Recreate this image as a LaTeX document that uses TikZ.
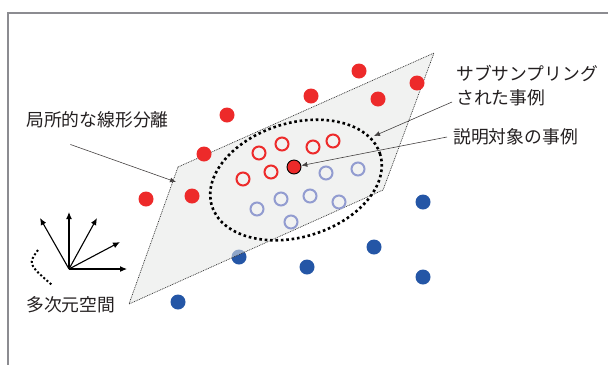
\documentclass[tikz,border=0pt]{standalone}
\usepackage{fontspec}
\newfontfamily\jp{Noto Sans CJK JP}
\usetikzlibrary{arrows.meta,shapes.geometric}
\definecolor{dotred}{RGB}{237,42,42}
\definecolor{dotblue}{RGB}{36,86,166}
\definecolor{ringblue}{RGB}{146,156,208}
\definecolor{planefill}{RGB}{230,232,230}
\definecolor{framegray}{RGB}{140,140,145}
\definecolor{txt}{RGB}{35,31,32}
\begin{document}
\begin{tikzpicture}[x=1pt,y=-1pt,
  reddot/.style={circle,fill=dotred,inner sep=0,minimum size=15pt},
  bluedot/.style={circle,fill=dotblue,inner sep=0,minimum size=15pt},
  redring/.style={circle,draw=dotred,line width=2pt,inner sep=0,minimum size=13pt},
  bluering/.style={circle,draw=ringblue,line width=2pt,inner sep=0,minimum size=13pt},
  target/.style={circle,fill=dotred,draw=black,line width=0.9pt,inner sep=0,minimum size=14pt},
  lbl/.style={inner sep=0,text=txt,font=\jp\fontsize{17.8}{25}\selectfont,anchor=west},
  leader/.style={draw=txt!85,line width=0.6pt,-{Latex[length=6pt,width=5pt]}},
  axis/.style={draw=black,line width=1.1pt,-{Latex[length=7pt,width=6pt]}},
  bigdots/.style={draw=black,line width=2.6pt,dash pattern=on 2.6pt off 2.8pt},
  planeedge/.style={draw=black!80,line width=0.7pt,dash pattern=on 0.9pt off 0.9pt}
]
\useasboundingbox (0,0) rectangle (609,365);
% frame
\draw[framegray,line width=2pt] (608,12.5) -- (7.5,12.5) -- (7.5,365);
% blue dot under the plane
\node[bluedot] (b5) at (239,257) {};
% plane
\coordinate (p1) at (178,167);
\coordinate (p2) at (434,53);
\coordinate (p3) at (383,190);
\coordinate (p4) at (129,304);
\fill[planefill,opacity=0.55] (p1) -- (p2) -- (p3) -- (p4) -- cycle;
\draw[planeedge] (p1) -- (p2) -- (p3) -- (p4) -- cycle;
% red dots
\node[reddot] (r1) at (359,71) {};
\node[reddot] (r2) at (417,83) {};
\node[reddot] (r3) at (311,96) {};
\node[reddot] (r4) at (378,99) {};
\node[reddot] (r5) at (227,115) {};
\node[reddot] (r6) at (204,154) {};
\node[reddot] (r7) at (146,199) {};
\node[reddot] (r8) at (192,196) {};
% blue dots
\node[bluedot] (b1) at (423,202) {};
\node[bluedot] (b2) at (374,247) {};
\node[bluedot] (b3) at (307,267) {};
\node[bluedot] (b4) at (423,277) {};
\node[bluedot] (b6) at (178,302) {};
% rings
\node[redring] (s1) at (259,153) {};
\node[redring] (s2) at (282,144) {};
\node[redring] (s3) at (313,147) {};
\node[redring] (s4) at (333,141) {};
\node[redring] (s5) at (243,179) {};
\node[redring] (s6) at (271,172) {};
\node[bluering] (u1) at (326,173) {};
\node[bluering] (u2) at (358,169) {};
\node[bluering] (u3) at (257,209) {};
\node[bluering] (u4) at (281,199) {};
\node[bluering] (u5) at (310,196) {};
\node[bluering] (u6) at (339,202) {};
\node[bluering] (u7) at (291,222) {};
\node[target] (c) at (294,167) {};
% neighbourhood ellipse
\node[bigdots,ellipse,minimum width=176pt,minimum height=114pt,inner sep=0,rotate=17] (ell) at (296,180) {};
% axes
\coordinate (o) at (69,269);
\coordinate (a1) at (40,218);
\coordinate (a2) at (69,212);
\coordinate (a3) at (97,218);
\coordinate (a4) at (120,242);
\coordinate (a5) at (127,269);
\foreach \t in {a1,a2,a3,a4,a5} \draw[axis] (o) -- (\t);
\coordinate (arcA) at (38,250);
\coordinate (arcB) at (52,285);
\draw[black,line width=2pt,dash pattern=on 2pt off 2.2pt] (arcA) .. controls (28,264) .. (arcB);
% labels
\node[lbl] (lab1) at (26,120) {局所的な線形分離};
\node[lbl] (lab2) at (456,73) {サブサンプリング};
\node[lbl] (lab2b) at (456,98) {された事例};
\node[lbl] (lab3) at (453,137) {説明対象の事例};
\node[lbl] (lab4) at (26,305) {多次元空間};
% leaders
\coordinate (t1) at (176,182);
\coordinate (t2) at (374,136);
\draw[leader] ([xshift=-27pt,yshift=-16pt]lab1.south) -- (t1);
\draw[leader] ([xshift=-4pt,yshift=-4pt]lab2b.west) -- (t2);
\draw[leader] ([xshift=-6pt]lab3.west) -- (c);
\end{tikzpicture}
\end{document}
